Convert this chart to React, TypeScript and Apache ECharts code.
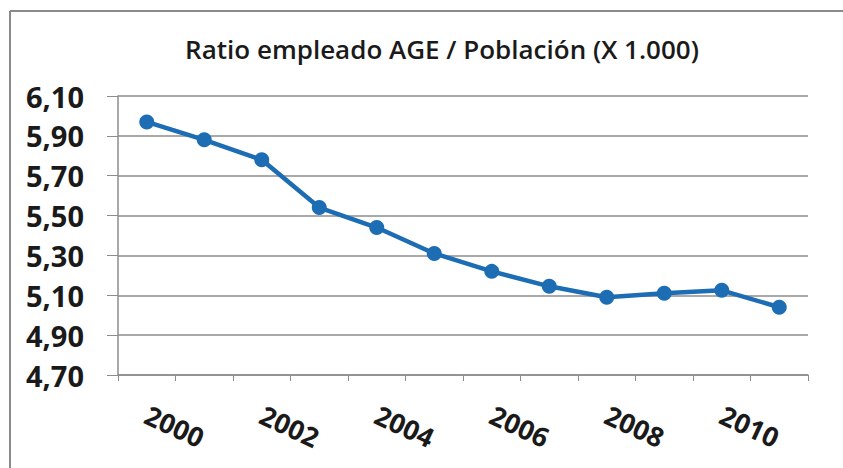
import React, { useEffect, useRef } from "react";
import * as echarts from "echarts";

const years = ["2000", "2001", "2002", "2003", "2004", "2005", "2006", "2007", "2008", "2009", "2010", "2011"];
const ratio = [5.97, 5.88, 5.78, 5.54, 5.44, 5.31, 5.22, 5.145, 5.09, 5.11, 5.125, 5.04];
const title = "Ratio empleado AGE / Población (X 1.000)";
const yMin = 4.7;
const yMax = 6.1;
const yStep = 0.2;

export default function App() {
  const ref = useRef<HTMLDivElement>(null);
  useEffect(() => {
    if (!ref.current) return;
    const chart = echarts.init(ref.current, null, { renderer: "svg" });
    chart.setOption({
      animation: false,
      backgroundColor: "#ffffff",
      title: {
        text: title,
        left: 437,
        textAlign: "center",
        top: 31,
        textStyle: {
          fontFamily: "Open Sans",
          fontWeight: 600,
          fontSize: 26,
          color: "#1a1a1a",
        },
      },
      graphic: [
        {
          type: "line",
          shape: { x1: 10, y1: 11, x2: 900, y2: 11 },
          style: { stroke: "#8a8a8a", lineWidth: 2 },
          silent: true,
        },
        {
          type: "line",
          shape: { x1: 10, y1: 11, x2: 10, y2: 500 },
          style: { stroke: "#8a8a8a", lineWidth: 2 },
          silent: true,
        },
      ],
      grid: { left: 118, right: 35, top: 96, bottom: 93, containLabel: false },
      xAxis: {
        type: "category",
        data: years,
        boundaryGap: true,
        axisLine: { show: true, lineStyle: { color: "#8c8c8c", width: 1.5 } },
        axisTick: { show: true, interval: 0, length: 6, lineStyle: { color: "#8c8c8c" } },
        axisLabel: {
          interval: 1,
          rotate: -25,
          margin: 38,
          fontFamily: "Open Sans",
          fontWeight: "bold",
          fontSize: 27,
          color: "#1a1a1a",
        },
      },
      yAxis: {
        type: "value",
        min: yMin,
        max: yMax,
        interval: yStep,
        axisLine: { show: true, lineStyle: { color: "#8c8c8c", width: 1.5 } },
        axisTick: { show: true, length: 11, lineStyle: { color: "#8c8c8c" } },
        splitLine: { show: true, lineStyle: { color: "#8c8c8c", width: 1.5 } },
        axisLabel: {
          margin: 34,
          fontFamily: "Open Sans",
          fontWeight: "bold",
          fontSize: 29,
          color: "#1a1a1a",
          formatter: (v: number) => v.toFixed(2).replace(".", ","),
        },
      },
      series: [
        {
          type: "line",
          data: ratio,
          symbol: "circle",
          symbolSize: 15,
          lineStyle: { color: "#1c6db3", width: 4.5 },
          itemStyle: { color: "#1c6db3" },
        },
      ],
    });
    return () => chart.dispose();
  }, []);
  return <div ref={ref} style={{ position: "fixed", left: 0, top: 0, width: 843, height: 468 }} />;
}
